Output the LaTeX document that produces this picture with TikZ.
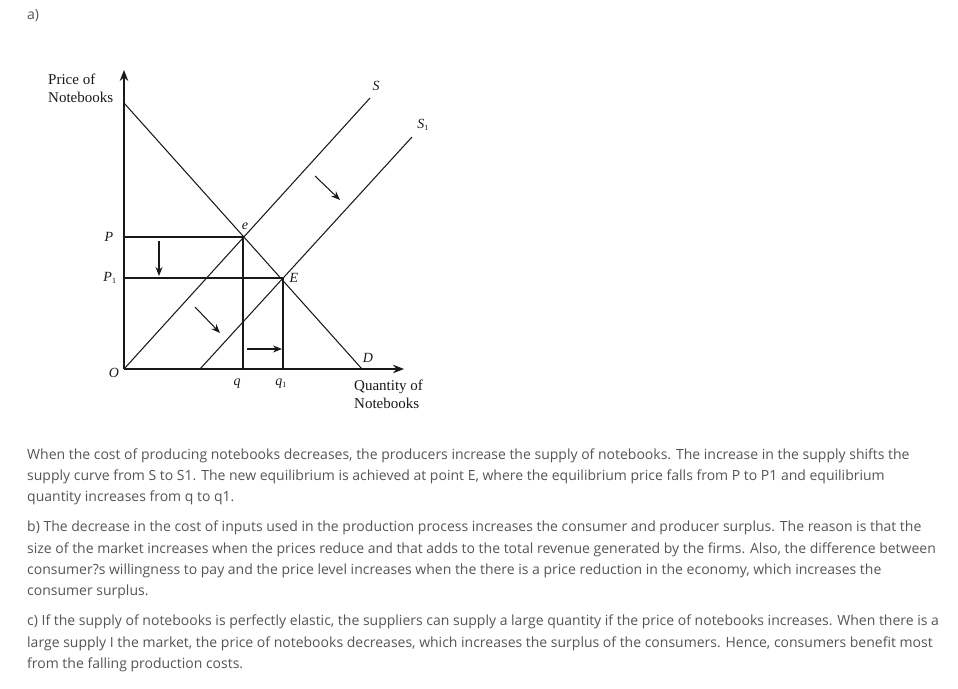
\documentclass[tikz,border=0pt]{standalone}
\usepackage{fontspec}
\setmainfont{Open Sans}
\newfontfamily\tnr{Liberation Serif}
\usetikzlibrary{arrows.meta}
\definecolor{txtgray}{RGB}{85,85,85}
\definecolor{ink}{RGB}{25,25,25}
\begin{document}
\begin{tikzpicture}[x=1pt,y=-1pt,
  curve/.style={draw=ink,line width=1.05pt},
  guide/.style={draw=ink,line width=1.05pt},
  shiftarrow/.style={draw=ink,line width=1.05pt,-{Stealth[length=9pt,width=7pt]}},
  axis/.style={draw=ink,line width=1.05pt,-{Stealth[length=11pt,width=8.5pt]}},
  axlabel/.style={font=\tnr\fontsize{15}{18}\selectfont,align=left,inner sep=0pt,text=ink},
  pt/.style={font=\tnr\itshape\fontsize{14}{15}\selectfont,inner sep=0pt,text=ink},
  para/.style={font=\fontsize{14}{21.3}\selectfont,text=txtgray,anchor=base west,inner sep=0pt}]
\useasboundingbox (0,0) rectangle (958,688);
% heading
\node[para] (head) at (27,19) {a)};
% key points
\coordinate (O) at (124,369);
\coordinate (ytop) at (124,70);
\coordinate (xend) at (404,369);
\coordinate (Dtop) at (124,103);
\coordinate (Dbot) at (362,369);
\coordinate (Send) at (370,98);
\coordinate (S1start) at (200,369);
\coordinate (S1end) at (412,137);
\coordinate (e) at (243,237);
\coordinate (E) at (283,278);
\coordinate (Pax) at (124,237);
\coordinate (P1ax) at (124,278);
\coordinate (qax) at (243,369);
\coordinate (q1ax) at (283,369);
% axes
\draw[axis] (O) -- (ytop);
\draw[axis] (O) -- (xend);
% curves
\draw[curve] (Dtop) -- (Dbot);
\draw[curve] (O) -- (Send);
\draw[curve] (S1start) -- (S1end);
% guides
\draw[guide] (Pax) -- (e) -- (qax);
\draw[guide] (P1ax) -- (E) -- (q1ax);
% shift arrows
\coordinate (a1s) at (159,241); \coordinate (a1e) at (159,276);
\coordinate (a2s) at (195,307); \coordinate (a2e) at (220,333);
\coordinate (a3s) at (315,176); \coordinate (a3e) at (340,200);
\coordinate (a4s) at (247,349); \coordinate (a4e) at (282,349);
\draw[shiftarrow] (a1s) -- (a1e);
\draw[shiftarrow] (a2s) -- (a2e);
\draw[shiftarrow] (a3s) -- (a3e);
\draw[shiftarrow] (a4s) -- (a4e);
% labels
\node[axlabel,anchor=north west] (ylab) at (48,74) {Price of\\Notebooks};
\node[axlabel,anchor=north west] (xlab) at (354,380) {Quantity of\\Notebooks};
\node[pt] (lS) at (376,86) {S};
\node[pt] (lS1) at (423,125) {S\textsubscript{\upshape\fontsize{8}{8}\selectfont 1}};
\node[pt] (lD) at (368,358) {D};
\node[pt] (le) at (245,226) {e};
\node[pt] (lE) at (294,278) {E};
\node[pt] (lP) at (109,237) {P};
\node[pt] (lP1) at (110,278) {P\textsubscript{\upshape\fontsize{8}{8}\selectfont 1}};
\node[pt] (lO) at (114,373) {O};
\node[pt] (lq) at (237,384) {q};
\node[pt] (lq1) at (281,384) {q\textsubscript{\upshape\fontsize{8}{8}\selectfont 1}};
% paragraphs
\node[para] (p1) at (27,459) {When the cost of producing notebooks decreases, the producers increase the supply of notebooks. The increase in the supply shifts the};
\node[para] (p2) at (27,480) {supply curve from S to S1. The new equilibrium is achieved at point E, where the equilibrium price falls from P to P1 and equilibrium};
\node[para] (p3) at (27,501) {quantity increases from q to q1.};
\node[para] (p4) at (27,531) {b) The decrease in the cost of inputs used in the production process increases the consumer and producer surplus. The reason is that the};
\node[para] (p5) at (27,553) {size of the market increases when the prices reduce and that adds to the total revenue generated by the firms. Also, the difference between};
\node[para] (p6) at (27,574) {consumer?s willingness to pay and the price level increases when the there is a price reduction in the economy, which increases the};
\node[para] (p7) at (27,595) {consumer surplus.};
\node[para] (p8) at (27,625) {c) If the supply of notebooks is perfectly elastic, the suppliers can supply a large quantity if the price of notebooks increases. When there is a};
\node[para] (p9) at (27,647) {large supply I the market, the price of notebooks decreases, which increases the surplus of the consumers. Hence, consumers benefit most};
\node[para] (p10) at (27,668) {from the falling production costs.};
\end{tikzpicture}
\end{document}
